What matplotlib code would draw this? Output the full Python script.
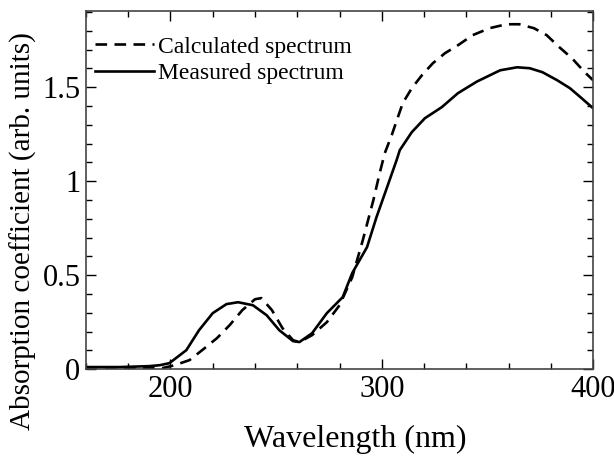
import matplotlib
matplotlib.use("Agg")
import matplotlib.pyplot as plt
from matplotlib.ticker import MultipleLocator

# values
wl_dash = [160, 190, 196, 202, 209, 215, 222, 228, 234, 240, 243, 248, 253, 258, 261,
           267, 274, 280, 286, 291, 296, 299, 301.4, 304.7, 307.1, 309.9, 314.2, 319,
           324.2, 329.9, 336, 343, 351, 359, 365, 372, 378, 384, 390, 396, 400]
abs_dash = [0.005, 0.005, 0.005, 0.021, 0.048, 0.101, 0.165, 0.234, 0.314, 0.372, 0.378,
            0.314, 0.218, 0.154, 0.144, 0.181, 0.250, 0.340, 0.489, 0.686, 0.899, 1.043,
            1.149, 1.245, 1.324, 1.415, 1.495, 1.564, 1.628, 1.681, 1.723, 1.777, 1.814,
            1.835, 1.835, 1.814, 1.777, 1.713, 1.654, 1.580, 1.537]

wl_solid = [160, 176, 190, 195, 199.5, 207.5, 213.5, 220, 226.5, 232, 239, 245.5, 251.5,
            258, 261, 267, 274, 281.5, 286, 293, 297.5, 302.5, 307, 308.5, 314.2, 320.4,
            328.4, 336, 345, 356, 364, 370, 376, 383, 389, 394, 400]
abs_solid = [0.011, 0.011, 0.016, 0.021, 0.032, 0.101, 0.207, 0.298, 0.346, 0.356, 0.340,
             0.287, 0.207, 0.149, 0.144, 0.191, 0.298, 0.383, 0.511, 0.649, 0.809, 0.968,
             1.112, 1.165, 1.261, 1.335, 1.394, 1.468, 1.530, 1.590, 1.606, 1.601, 1.580,
             1.537, 1.495, 1.447, 1.388]

labels = ["Calculated spectrum", "Measured spectrum"]

plt.rcParams['font.family'] = ['Liberation Serif', 'DejaVu Serif']

fig = plt.figure(figsize=(6.14, 4.62), dpi=100)
ax = fig.add_axes([0.140, 0.201, 0.826, 0.775])

ax.plot(wl_dash, abs_dash, color='black', lw=1.9, linestyle=(0, (4.4, 2.8)), label=labels[0])
ax.plot(wl_solid, abs_solid, color='black', lw=1.9, label=labels[1])

ax.set_xlim(160, 400)
ax.set_ylim(0, 1.905)
ax.xaxis.set_major_locator(MultipleLocator(100))
ax.xaxis.set_minor_locator(MultipleLocator(20))
ax.yaxis.set_minor_locator(MultipleLocator(0.1))
ax.set_yticks([0, 0.5, 1.0, 1.5])
ax.set_yticklabels(["0", "0.5", "1", "1.5"])

ax.tick_params(which='both', direction='in', top=True, right=True, width=1.0)
ax.tick_params(which='major', length=7, labelsize=22, pad=4)
ax.tick_params(which='minor', length=4)
for s in ax.spines.values():
    s.set_linewidth(1.2)
    s.set_color('#444444')

ax.set_xlabel("Wavelength (nm)", fontsize=23)
ax.xaxis.set_label_coords(0.53, -0.155)
ax.set_ylabel("Absorption coefficient (arb. units)", fontsize=21)
ax.yaxis.set_label_coords(-0.097, 0.385)

ax.legend(loc='upper left', bbox_to_anchor=(0.018, 0.93), frameon=False, fontsize=17,
          handlelength=2.5, handletextpad=0.15, labelspacing=0.2, borderpad=0,
          borderaxespad=0)

fig.savefig('out.png', dpi=100)
